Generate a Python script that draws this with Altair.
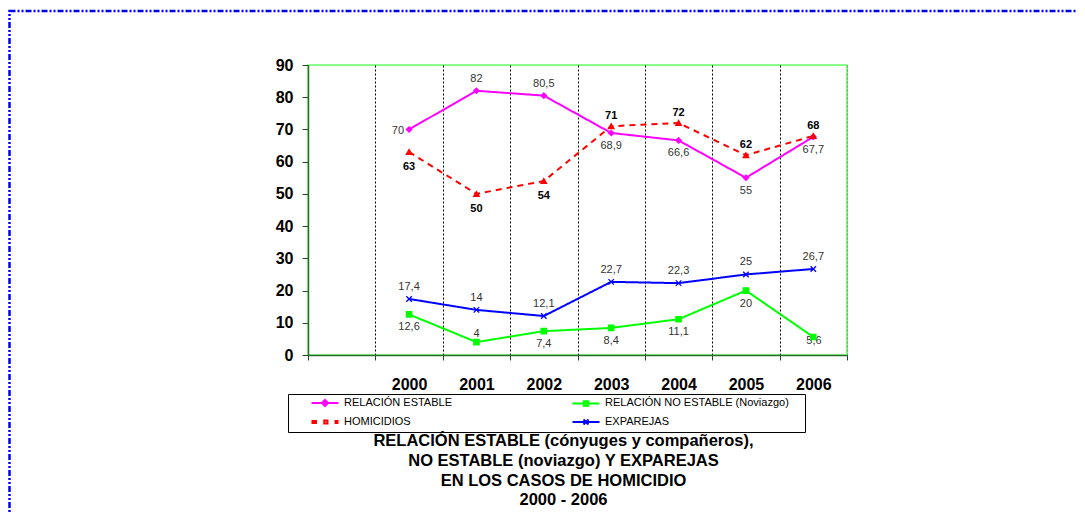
import altair as alt
import pandas as pd

FONT = "Liberation Sans"

# ---------------- data ----------------
categorias = ["", "2000", "2001", "2002", "2003", "2004", "2005", "2006"]
anios = ["2000", "2001", "2002", "2003", "2004", "2005", "2006"]

series = ["RELACIÓN ESTABLE", "RELACIÓN NO ESTABLE (Noviazgo)", "HOMICIDIOS", "EXPAREJAS"]
colores = ["#FF00FF", "#00FF00", "#FF0000", "#0000FF"]

relacion_estable = [70, 82, 80.5, 68.9, 66.6, 55, 67.7]
relacion_no_estable = [12.6, 4, 7.4, 8.4, 11.1, 20, 5.6]
homicidios = [63, 50, 54, 71, 72, 62, 68]
exparejas = [17.4, 14, 12.1, 22.7, 22.3, 25, 26.7]

# where each data label sits relative to its point
pos_estable = ["izq", "arriba", "arriba", "abajo", "abajo", "abajo", "abajo"]
pos_no_estable = ["abajo", "cerca", "abajo", "abajo", "abajo", "abajo", "der"]
pos_homicidios = ["abajo", "abajo", "abajo", "arriba", "arriba", "arriba", "arriba"]
pos_exparejas = ["arriba"] * 7

titulo = [
    "RELACIÓN ESTABLE (cónyuges y compañeros),",
    "NO ESTABLE (noviazgo) Y EXPAREJAS",
    "EN LOS CASOS DE HOMICIDIO",
    "2000 - 2006",
]

valores = {
    series[0]: (relacion_estable, pos_estable),
    series[1]: (relacion_no_estable, pos_no_estable),
    series[2]: (homicidios, pos_homicidios),
    series[3]: (exparejas, pos_exparejas),
}

filas = []
for s in series:
    vals, poss = valores[s]
    for a, v, p in zip(anios, vals, poss):
        filas.append({
            "anio": a, "serie": s, "valor": v,
            "etiqueta": f"{v:g}".replace(".", ","),
            "pos": p,
            "negrita": s == "HOMICIDIOS",
        })
df = pd.DataFrame(filas)

# ---------------- layout ----------------
W, H = 539, 290

x_scale = alt.Scale(domain=categorias, type="band", paddingInner=0, paddingOuter=0)
y_scale = alt.Scale(domain=[0, 90], nice=False)

x_enc = alt.X(
    "anio:N", scale=x_scale, bandPosition=0.5, title=None,
    axis=alt.Axis(
        labelFont=FONT, labelFontSize=16, labelFontWeight="bold", labelColor="black",
        labelAngle=0, labelPadding=16, tickSize=5, tickColor="#1E4A1E",
        domainColor="#2E6B2E", domainWidth=1.5, grid=True, gridColor="black",
        gridDash=[2, 2], gridWidth=1, tickBand="extent",
    ),
)
y_enc = alt.Y(
    "valor:Q", scale=y_scale, title=None,
    axis=alt.Axis(
        values=list(range(0, 91, 10)), labelFont=FONT, labelFontSize=16,
        labelFontWeight="bold", labelColor="black", labelPadding=9, tickSize=6,
        tickColor="#1E4A1E", domainColor="#2E6B2E", domainWidth=1.5, grid=False,
    ),
)

color_scale = alt.Scale(domain=series, range=colores)
base = alt.Chart(df)

# page border (dash-dot blue)
borde = alt.Chart(alt.Data(values=[{"b": 1}])).mark_rect(
    fillOpacity=0, stroke="#0000FF", strokeWidth=2.5, strokeDash=[6, 2, 2, 2, 2, 2]
).encode(x=alt.value(-298.5), x2=alt.value(800), y=alt.value(-54), y2=alt.value(600))

lineas = base.mark_line().encode(
    x=x_enc, y=y_enc,
    color=alt.Color("serie:N", scale=color_scale, legend=None),
    strokeDash=alt.StrokeDash("serie:N", scale=alt.Scale(domain=series, range=[[1, 0], [1, 0], [6, 5], [1, 0]]), legend=None),
    strokeWidth=alt.StrokeWidth("serie:N", scale=alt.Scale(domain=series, range=[2, 2, 3, 2]), legend=None),
)

XPATH = "M-1,-1L1,1M-1,1L1,-1"
puntos = base.mark_point(filled=True, opacity=1, strokeWidth=1.3).encode(
    x=x_enc, y=y_enc,
    fill=alt.Fill("serie:N", scale=color_scale, legend=None),
    stroke=alt.Stroke("serie:N", scale=color_scale, legend=None),
    shape=alt.Shape("serie:N", scale=alt.Scale(domain=series, range=["diamond", "square", "triangle-up", XPATH]), legend=None),
    size=alt.Size("serie:N", scale=alt.Scale(domain=series, range=[28, 30, 45, 22]), legend=None),
)

placements = {
    "arriba": dict(dx=0, dy=-12, align="center"),
    "abajo": dict(dx=0, dy=13, align="center"),
    "cerca": dict(dx=0, dy=-8, align="center"),
    "izq": dict(dx=-5, dy=2, align="right"),
    "der": dict(dx=-7, dy=4, align="left"),
}
placements_bold = {
    "arriba": dict(dx=0, dy=-10, align="center"),
    "abajo": dict(dx=0, dy=15, align="center"),
}

textos = []
for p, kw in placements.items():
    textos.append(
        base.transform_filter((alt.datum.pos == p) & (alt.datum.negrita == False))
        .mark_text(font=FONT, fontSize=11, color="#333333", baseline="middle", **kw)
        .encode(x=x_enc, y=y_enc, text="etiqueta:N")
    )
for p, kw in placements_bold.items():
    textos.append(
        base.transform_filter((alt.datum.pos == p) & (alt.datum.negrita == True))
        .mark_text(font=FONT, fontSize=11, fontWeight="bold", color="black", baseline="middle", **kw)
        .encode(x=x_enc, y=y_enc, text="etiqueta:N")
    )

# legend built from the series scales (custom symbols: line + marker)
ley_paths = [
    "M-2.7,0H2.7M0,-0.6L0.6,0L0,0.6L-0.6,0Z",
    "M-2.7,0H2.7M-0.45,-0.45H0.45V0.45H-0.45Z",
    "M-2.5,-0.2H-1.8V0.2H-2.5ZM-0.15,-0.3H0.5V0.3H-0.15ZM2.1,-0.2H2.5V0.2H2.1Z",
    "M-2.7,0H2.7M-0.5,-0.5L0.5,0.5M-0.5,0.5L0.5,-0.5",
]
NB = "\u00a0" * 4 + "\u200b"
ley_kw = dict(
    title=None, orient="none", legendX=-20, legendY=329, columns=2, direction="horizontal",
    strokeColor="black", fillColor="white", padding=3, rowPadding=5, columnPadding=87,
    symbolSize=100, symbolStrokeWidth=2, symbolOffset=28, symbolOpacity=1,
    labelFont=FONT, labelFontSize=11, labelColor="black", labelOffset=13, labelLimit=400,
    labelExpr=f"datum.label + '{NB}'",
)
leyenda = base.transform_filter(alt.datum.valor < 0).mark_point(filled=False, opacity=1).encode(
    color=alt.Color("serie:N", scale=color_scale, legend=alt.Legend(**ley_kw)),
    shape=alt.Shape("serie:N", scale=alt.Scale(domain=series, range=ley_paths), legend=alt.Legend(**ley_kw)),
)

borde_der = alt.Chart(alt.Data(values=[{"b": 1}])).mark_rule(color="#66FF66", strokeWidth=1.5).encode(
    x=alt.value(W), y=alt.value(0), y2=alt.value(H)
)

chart = alt.layer(borde, lineas, *textos, puntos, leyenda, borde_der).resolve_scale(
    color="independent", shape="independent"
).properties(
    width=W, height=H,
    autosize=alt.AutoSizeParams(type="none"),
    padding={"left": 300, "top": 57, "right": 229, "bottom": 160},
    title=alt.TitleParams(
        text=titulo, orient="bottom", anchor="middle", font=FONT, fontSize=16.5,
        fontWeight="bold", color="black", lineHeight=19.7, offset=-233, dx=-14,
    ),
).configure_view(stroke="#66FF66", strokeWidth=1.5)

chart.save("out.html", embed_options={"renderer": "svg", "actions": False})
